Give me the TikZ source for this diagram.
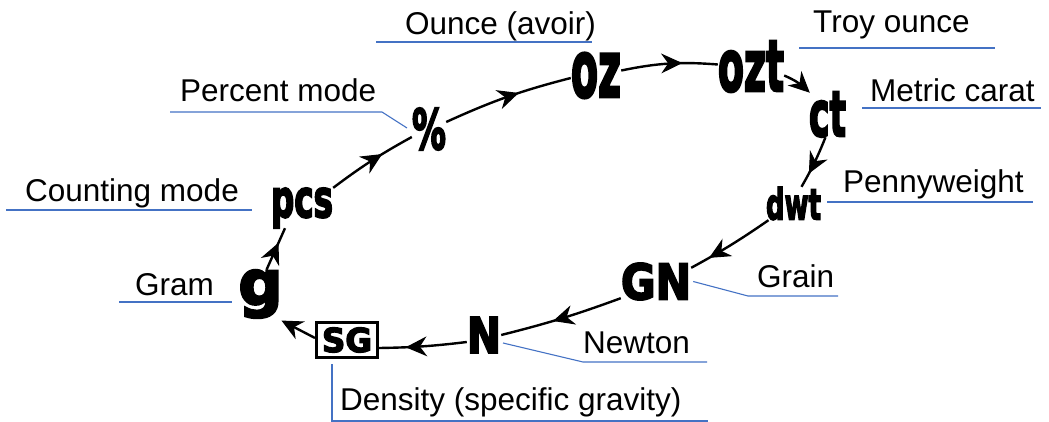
\documentclass[tikz,border=0pt]{standalone}
\usepackage{fontspec}
\setmainfont{Liberation Sans}
\newfontfamily\heavyfont[FakeBold=4]{DejaVu Sans Bold}
\usetikzlibrary{decorations.markings}
\definecolor{leadblue}{RGB}{68,114,196}
\newcommand{\myhead}{\filldraw[black, line width=1.2pt, line join=miter] (0,0) -- (-18,8.5) -- (-12,0) -- (-18,-8.5) -- cycle;}
\begin{document}
\begin{tikzpicture}[x=1pt,y=-1pt,
  sym/.style={inner sep=0pt, font=\heavyfont},
  lbl/.style={anchor=base west, inner sep=0pt, font=\fontsize{31.5}{36}\selectfont},
  lead/.style={draw=leadblue, line width=1.1pt},
  conn/.style={draw=black, line width=2.4pt},
  endarrow/.style={shorten >=5pt, postaction={decorate}, decoration={markings, mark=at position 1 with {\myhead}}},
  midarrow/.style={postaction={decorate}, decoration={markings, mark=at position #1 with {\myhead}}}]
\useasboundingbox (0,0) rectangle (1049,422);
% symbols
\node[sym] (g)   at (260.5,294) {\resizebox*{44pt}{48pt}{g}};
\node[sym] (pcs) at (302,208)   {\resizebox*{62pt}{40pt}{pcs}};
\node[sym] (pct) at (429,129)   {\resizebox*{34pt}{42pt}{\%}};
\node[sym] (oz)  at (596,75.5)  {\resizebox*{50pt}{45pt}{oz}};
\node[sym] (ozt) at (751,66.5)  {\resizebox*{66pt}{51pt}{ozt}};
\node[sym] (ct)  at (827.5,114.5) {\resizebox*{37pt}{45pt}{ct}};
\node[sym] (dwt) at (793.5,203.5) {\resizebox*{55pt}{33pt}{dwt}};
\node[sym] (GN)  at (656,281.5) {\resizebox*{70pt}{37pt}{GN}};
\node[sym] (N)   at (484,335)   {\resizebox*{34pt}{36pt}{N}};
\node[sym, draw, line width=3pt, minimum width=61pt, minimum height=35pt] (SG) at (347,340) {\resizebox*{50pt}{25pt}{SG}};
% connectors
\draw[conn, midarrow=0.62] ([xshift=6pt]g.north) -- ([xshift=-17pt]pcs.south);
\draw[conn, midarrow=0.62] (pcs.north east) to[bend left=4] ([yshift=-8pt]pct.west);
\draw[conn, midarrow=0.58] ([yshift=7pt]pct.east) to[bend left=5] ([yshift=-2.5pt]oz.west);
\draw[conn, midarrow=0.62] ([yshift=5pt]oz.east) to[bend left=8] ([yshift=2pt]ozt.west);
\draw[conn, endarrow] ([yshift=-9pt]ozt.east) to[bend left=10] (ct.north west);
\draw[conn, midarrow=0.7] ([xshift=-2pt]ct.south) to[bend left=4] ([xshift=8pt]dwt.north);
\draw[conn, midarrow=0.76] ([xshift=-25pt]dwt.south) to[bend left=3] ([yshift=-5pt]GN.north east);
\draw[conn, midarrow=0.56] ([yshift=2pt]GN.south west) to[bend left=3] (N.east);
\draw[conn, midarrow=0.68] ([yshift=-7pt]N.west) to[bend left=3] ([yshift=-8pt]SG.east);
\draw[conn, endarrow] ([yshift=2pt]SG.west) -- ([yshift=-3pt]g.south east);
% labels
\node[lbl] (l-oz)  at (405,35)  {Ounce (avoir)};
\node[lbl] (l-ozt) at (813,33)  {Troy ounce};
\node[lbl] (l-ct)  at (870,102) {Metric carat};
\node[lbl] (l-dwt) at (843,193) {Pennyweight};
\node[lbl] (l-GN)  at (757,287) {Grain};
\node[lbl] (l-N)   at (583,353) {Newton};
\node[lbl] (l-SG)  at (340,410) {Density (specific gravity)};
\node[lbl] (l-g)   at (135,295) {Gram};
\node[lbl] (l-pcs) at (25,202)  {Counting mode};
\node[lbl] (l-pct) at (180,102) {Percent mode};
% leader lines
\draw[lead] (376,42) -- (592,42);
\draw[lead] (799,48) -- (995,48);
\draw[lead] (862,108) -- (1041,108);
\draw[lead] (827,202) -- (1033,202);
\draw[lead] ([xshift=2pt]GN.east) -- (748,296) -- (838,296);
\draw[lead] (503,343) -- (583,362) -- (707,362);
\draw[lead] (332,364) -- (332,421) -- (708,421);
\draw[lead] (119,302) -- (232,302);
\draw[lead] (6,210) -- (252,210);
\draw[lead] (170,112) -- (382,112) -- (407,128);
\end{tikzpicture}
\end{document}
